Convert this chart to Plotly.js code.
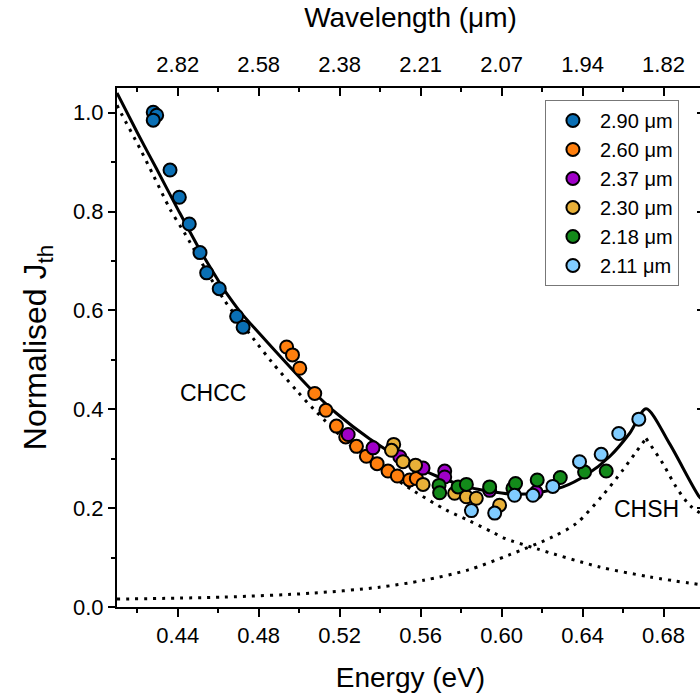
<!DOCTYPE html>
<html>
<head>
<meta charset="utf-8">
<script src="https://cdn.plot.ly/plotly-3.0.1.min.js"></script>
<style>
html, body { margin:0; padding:0; overflow:hidden; background:#fff; }
#chart { width:704px; height:695px; }
</style>
</head>
<body>
<div id="chart"></div>
<script>
// ---- Data ----
const seriesNames = ['2.90 \u03bcm', '2.60 \u03bcm', '2.37 \u03bcm', '2.30 \u03bcm', '2.18 \u03bcm', '2.11 \u03bcm'];

const e290 = [0.4279, 0.4296, 0.4279, 0.4362, 0.4408, 0.4457, 0.4510, 0.4543, 0.4605, 0.4691, 0.4723];
const j290 = [1.001, 0.995, 0.985, 0.884, 0.829, 0.775, 0.717, 0.676, 0.644, 0.588, 0.566];

const e260 = [0.4938, 0.4967, 0.5003, 0.5077, 0.5132, 0.5184, 0.5230, 0.5283, 0.5332, 0.5385, 0.5439, 0.5485, 0.5546, 0.5579];
const j260 = [0.526, 0.510, 0.483, 0.432, 0.398, 0.366, 0.344, 0.325, 0.305, 0.290, 0.275, 0.265, 0.257, 0.260];

const e237 = [0.5242, 0.5365, 0.5497, 0.5612, 0.5719, 0.5719, 0.5941, 0.6171];
const j237 = [0.349, 0.322, 0.304, 0.281, 0.275, 0.263, 0.236, 0.232];

const e230 = [0.5467, 0.5456, 0.5513, 0.5575, 0.5612, 0.5768, 0.5826, 0.5875, 0.5990];
const j230 = [0.329, 0.317, 0.294, 0.287, 0.248, 0.230, 0.223, 0.220, 0.206];

const e218 = [0.5691, 0.5694, 0.5785, 0.5826, 0.5941, 0.6056, 0.6069, 0.6176, 0.6290, 0.6410, 0.6517];
const j218 = [0.246, 0.231, 0.243, 0.248, 0.243, 0.240, 0.250, 0.257, 0.262, 0.273, 0.275];

const e211 = [0.5851, 0.5966, 0.6064, 0.6155, 0.6253, 0.6385, 0.6492, 0.6579, 0.6678];
const j211 = [0.195, 0.190, 0.226, 0.226, 0.244, 0.294, 0.309, 0.351, 0.380];

// total fit (solid)
const fitE = [0.410, 0.420, 0.4296, 0.440, 0.451, 0.4625, 0.4707, 0.4864, 0.5069, 0.5184, 0.5349, 0.5513, 0.5678, 0.5842, 0.5941, 0.6056, 0.6171, 0.6303, 0.6418, 0.6533, 0.6632, 0.6714, 0.6829, 0.6977, 0.700];
const fitJ = [1.040, 0.960, 0.886, 0.805, 0.722, 0.644, 0.598, 0.526, 0.436, 0.392, 0.340, 0.298, 0.265, 0.242, 0.234, 0.228, 0.231, 0.243, 0.267, 0.304, 0.351, 0.401, 0.331, 0.223, 0.215];

// CHCC component (dotted)
const chccE = [0.410, 0.4123, 0.4214, 0.428, 0.4362, 0.4436, 0.4625, 0.4781, 0.4864, 0.4987, 0.5077, 0.530, 0.5562, 0.5727, 0.5842, 0.5957, 0.6015, 0.618, 0.6484, 0.673, 0.700];
const chccJ = [1.015, 0.997, 0.927, 0.873, 0.805, 0.755, 0.624, 0.539, 0.496, 0.438, 0.398, 0.310, 0.236, 0.196, 0.174, 0.151, 0.139, 0.117, 0.081, 0.061, 0.044];

// CHSH component (dotted)
const chshE = [0.410, 0.4623, 0.5065, 0.5396, 0.5615, 0.5836, 0.6035, 0.6253, 0.6369, 0.650, 0.6599, 0.6665, 0.6714, 0.6797, 0.6862, 0.6929, 0.700];
const chshJ = [0.016, 0.020, 0.028, 0.040, 0.054, 0.075, 0.105, 0.142, 0.169, 0.226, 0.277, 0.314, 0.341, 0.290, 0.243, 0.206, 0.185];

// top axis (wavelength) tick labels at energy positions
const topTickE = [0.44, 0.48, 0.52, 0.56, 0.60, 0.64, 0.68];
const topTickText = ['2.82', '2.58', '2.38', '2.21', '2.07', '1.94', '1.82'];

const colors = ['#0a6fb4', '#ff7f0e', '#a000c8', '#e8b038', '#138a1a', '#80ccff'];

// ---- Build traces ----
function peakIndex(arr) { let k = 0; arr.forEach((v, i) => { if (v > arr[k]) k = i; }); return k; }
function branches(E, J, line) {
  const k = peakIndex(J.slice(5)) + 5;
  return [
    {x: E.slice(0, k + 1), y: J.slice(0, k + 1), mode: 'lines', line: Object.assign({shape: 'spline', smoothing: 0.8}, line), showlegend: false, hoverinfo: 'skip'},
    {x: E.slice(k), y: J.slice(k), mode: 'lines', line: Object.assign({shape: 'spline', smoothing: 0.8}, line), showlegend: false, hoverinfo: 'skip'}
  ];
}
const dotLine = {color: '#000', width: 3, dash: '3px,6px'};
const traces = [];
traces.push({x: chccE, y: chccJ, mode: 'lines', line: Object.assign({shape: 'spline', smoothing: 0.8}, dotLine), showlegend: false, hoverinfo: 'skip'});
traces.push(...branches(chshE, chshJ, dotLine));
traces.push(...branches(fitE, fitJ, {color: '#000', width: 3}));

const xs = [e290, e260, e237, e230, e218, e211];
const ys = [j290, j260, j237, j230, j218, j211];
xs.forEach((x, i) => {
  traces.push({
    x: x, y: ys[i], name: seriesNames[i], mode: 'markers', type: 'scatter',
    marker: {size: 13, color: colors[i], line: {color: '#000', width: 2}}
  });
});

const font = 'Arial, "Liberation Sans", sans-serif';
const axisCommon = {showgrid: false, zeroline: false, showline: true, linecolor: '#000', linewidth: 2,
  tickcolor: '#000', tickwidth: 2, ticklen: 8, tickfont: {family: font, size: 22, color: '#000'}};

const layout = {
  width: 704, height: 695,
  margin: {l: 117, r: 0, t: 88, b: 88},
  paper_bgcolor: '#fff', plot_bgcolor: '#fff',
  font: {family: font, color: '#000'},
  xaxis: Object.assign({}, axisCommon, {
    range: [0.41, 0.70], ticks: 'outside', tick0: 0, dtick: 0.04, tickformat: '.2f',
    minor: {tick0: 0, dtick: 0.02, ticks: 'outside', ticklen: 4, tickwidth: 2, tickcolor: '#000'},
    title: {text: 'Energy (eV)', font: {family: font, size: 28, color: '#000'}, standoff: 20}
  }),
  xaxis2: Object.assign({}, axisCommon, {
    overlaying: 'x', side: 'top', matches: 'x', range: [0.41, 0.70],
    tickmode: 'array', tickvals: topTickE, ticktext: topTickText, ticks: 'inside',
    minor: {tickmode: 'linear', tick0: 0, dtick: 0.02, ticks: 'inside', ticklen: 4, tickwidth: 2, tickcolor: '#000'},
    ticklabelstandoff: 5,
    title: {text: 'Wavelength (\u03bcm)', font: {family: font, size: 28, color: '#000'}, standoff: 16}
  }),
  yaxis: Object.assign({}, axisCommon, {
    range: [0, 1.05], ticks: 'outside', ticklen: 7, tick0: 0, dtick: 0.2, tickformat: '.1f',
    minor: {tick0: 0, dtick: 0.1, ticks: 'outside', ticklen: 4, tickwidth: 2, tickcolor: '#000'},
    title: {text: 'Normalised J<sub>th</sub>', font: {family: font, size: 32, color: '#000'}, standoff: 17}
  }),
  yaxis2: Object.assign({}, axisCommon, {
    overlaying: 'y', side: 'right', matches: 'y', range: [0, 1.05], showticklabels: false,
    ticks: 'inside', ticklen: 7, tick0: 0, dtick: 0.2,
    minor: {tick0: 0, dtick: 0.1, ticks: 'inside', ticklen: 4, tickwidth: 2, tickcolor: '#000'}
  }),
  legend: {x: 0.729, y: 0.977, xanchor: 'left', yanchor: 'top', bgcolor: '#fff', itemwidth: 44,
    bordercolor: '#777', borderwidth: 1, font: {family: font, size: 20, color: '#000'}},
  annotations: [
    {x: 0.4574, y: 0.432, xref: 'x', yref: 'y', text: 'CHCC', showarrow: false, font: {family: font, size: 23, color: '#000'}},
    {x: 0.6714, y: 0.198, xref: 'x', yref: 'y', text: 'CHSH', showarrow: false, font: {family: font, size: 23, color: '#000'}}
  ],
  showlegend: true
};

// invisible carrier so the top and right axes are drawn
traces.push({x: topTickE, y: topTickE.map(() => null), xaxis: 'x2', yaxis: 'y2', mode: 'markers', showlegend: false, hoverinfo: 'skip'});

Plotly.newPlot('chart', traces, layout, {displayModeBar: false, staticPlot: true});
</script>
</body>
</html>
